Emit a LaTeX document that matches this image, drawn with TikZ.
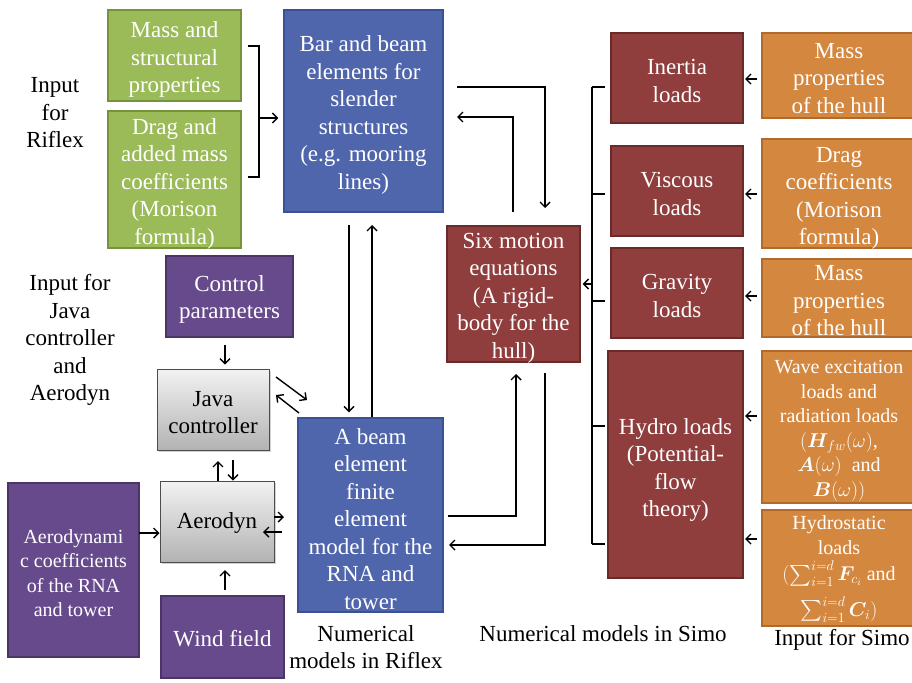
\RequirePackage{fix-cm}
\documentclass[tikz,border=0pt]{standalone}
\usepackage{amsmath,bm}
\usepackage{fontspec}
\setmainfont{Liberation Serif}
\usetikzlibrary{arrows.meta,shadows,calc}
\definecolor{grn}{HTML}{9BBB59}\definecolor{grnD}{HTML}{76923C}
\definecolor{blu}{HTML}{5066AC}\definecolor{bluD}{HTML}{3A5195}
\definecolor{red1}{HTML}{8F3D3D}\definecolor{redD}{HTML}{6B2A2A}
\definecolor{org}{HTML}{D4873F}\definecolor{orgD}{HTML}{B06A2C}
\definecolor{pur}{HTML}{674A8C}\definecolor{purD}{HTML}{4B3468}
\newcommand{\fA}{\fontsize{23}{27.5}\selectfont}
\newcommand{\fB}{\fontsize{20}{24.5}\selectfont}
\begin{document}
\begin{tikzpicture}[x=1pt,y=-1pt,
  box/.style={draw, line width=1.3pt, inner sep=0pt},
  bt/.style={align=center, text=white, font=\fA, inner sep=0pt},
  st/.style={bt, font=\fB},
  gt/.style={bt, text=black},
  gbox/.style={box, fill=grn, draw=grnD},
  bbox/.style={box, fill=blu, draw=bluD},
  rbox/.style={box, fill=red1, draw=redD},
  obox/.style={box, fill=org, draw=orgD},
  pbox/.style={box, fill=pur, draw=purD},
  graybox/.style={draw=black!70, line width=1pt, inner sep=0pt,
     top color=black!5, bottom color=black!30,
     drop shadow={shadow xshift=1.5pt, shadow yshift=-1.5pt, opacity=.35}},
  lbl/.style={align=center, font=\fA, text=black, inner sep=0pt},
  ln/.style={line width=1.4pt, draw=black},
  arr/.style={ln, -{Straight Barb[length=5pt,width=10pt]}}]
\fill[white] (0,0) rectangle (912,682);
\useasboundingbox (0,0) rectangle (912,682);

% green
\node[gbox, minimum width=133pt, minimum height=91pt] (g1) at (174.5,55.5) {};
\node[bt] (g1t) at (174.5,59.5) {Mass and\\structural\\properties};
\node[gbox, minimum width=133pt, minimum height=137pt] (g2) at (174.5,179.5) {};
\node[bt] (g2t) at (174.5,183.5) {Drag and\\added mass\\coefficients\\(Morison\\formula)};
% blue
\node[bbox, minimum width=159pt, minimum height=202pt] (b1) at (363.5,111) {};
\node[bt] (b1t) at (363.5,115) {Bar and beam\\elements for\\slender\\structures\\(e.g. mooring\\lines)};
\node[bbox, minimum width=145pt, minimum height=194pt] (b2) at (370.5,515) {};
\node[bt] (b2t) at (370.5,519) {A beam\\element\\finite\\element\\model for the\\RNA and\\tower};
% red
\node[rbox, minimum width=133pt, minimum height=136pt] (six) at (513.5,294) {};
\node[bt] (sixt) at (513.5,298) {Six motion\\equations\\(A rigid-\\body for the\\hull)};
\node[rbox, minimum width=132pt, minimum height=90pt] (in) at (677,78) {};
\node[bt] (int) at (677,81) {Inertia\\loads};
\node[rbox, minimum width=132pt, minimum height=90pt] (vi) at (677,191) {};
\node[bt] (vit) at (677,194) {Viscous\\loads};
\node[rbox, minimum width=132pt, minimum height=90pt] (gr) at (677,293) {};
\node[bt] (grt) at (677,296) {Gravity\\loads};
\node[rbox, minimum width=135pt, minimum height=227pt] (hy) at (675.5,464.5) {};
\node[bt] (hyt) at (675.5,470) {Hydro loads\\(Potential-\\flow\\theory)};
% orange
\node[obox, minimum width=154pt, minimum height=85pt] (o1) at (839,75.5) {};
\node[bt] (o1t) at (839,78.5) {Mass\\properties\\of the hull};
\node[obox, minimum width=154pt, minimum height=109pt] (o2) at (839,193.5) {};
\node[bt] (o2t) at (839,198.5) {Drag\\coefficients\\(Morison\\formula)};
\node[obox, minimum width=154pt, minimum height=78pt] (o3) at (839,298) {};
\node[bt] (o3t) at (839,301) {Mass\\properties\\of the hull};
\node[obox, minimum width=154pt, minimum height=152pt] (o4) at (839,427) {};
\node[st] (o4t) at (839,431) {Wave excitation\\loads and\\radiation loads\\$(\bm{H}_{fw}(\omega)$,\\$\bm{A}(\omega)$\ \ and\\$\bm{B}(\omega))$};
\node[obox, minimum width=154pt, minimum height=116pt] (o5) at (839,568) {};
\node[st] (o5t) at (839,569) {Hydrostatic\\loads\\[2pt]$(\sum_{i=1}^{i=d}\bm{F}_{c_i}$ and\\[9pt]$\sum_{i=1}^{i=d}\bm{C}_i)$};
% purple and gray
\node[pbox, minimum width=127pt, minimum height=81pt] (ctrl) at (229.5,296.5) {};
\node[bt] (ctrlt) at (229.5,299.5) {Control\\parameters};
\node[graybox, minimum width=112pt, minimum height=81pt] (java) at (213,409.5) {};
\node[gt] (javat) at (213,412.5) {Java\\controller};
\node[graybox, minimum width=114pt, minimum height=81pt] (aero) at (217,521.5) {};
\node[gt] (aerot) at (217,523) {Aerodyn};
\node[pbox, minimum width=131pt, minimum height=174pt] (coef) at (73.5,570) {};
\node[st] (coeft) at (73.5,573) {Aerodynami\\c coefficients\\of the RNA\\and tower};
\node[pbox, minimum width=123pt, minimum height=82pt] (wind) at (222.5,637) {};
\node[bt] (windt) at (222.5,639) {Wind field};

% labels
\node[lbl] (l1) at (55,113) {Input\\for\\Riflex};
\node[lbl] (l2) at (70,340) {Input for\\Java\\controller\\and\\Aerodyn};
\node[lbl] (l3) at (366,647) {Numerical\\models in Riflex};
\node[lbl] (l4) at (603,634) {Numerical models in Simo};
\node[lbl] (l5) at (842,640) {Input for Simo};

% bracket green -> blue1
\coordinate (bt) at (248,46); \coordinate (bb) at (248,177); \coordinate (bm) at (259,118);
\draw[ln] (bt) -| (bm) |- (bb);
\draw[arr, shorten >=5pt] (bm) -- (bm -| b1.west);

% blue1 <-> blue2
\coordinate (va) at (349,225); \coordinate (vb) at (372,225);
\draw[arr, shorten >=5pt] (va) -- (va |- b2.north);
\draw[arr] (vb |- b2.north) -- (vb);

% blue1 <-> six
\coordinate (ta) at (457,87); \coordinate (tb) at (545,208);
\draw[arr] (ta) -| (tb);
\coordinate (tc) at (513,212); \coordinate (td) at (457,117);
\draw[arr] (tc) |- (td);

% blue2 <-> six
\coordinate (ca) at (448,516); \coordinate (cb) at (516,374);
\draw[arr] (ca) -| (cb);
\coordinate (da) at (545,373); \coordinate (db) at (449,545);
\draw[arr] (da) |- (db);

% right bracket
\coordinate (rt) at (592,87); \coordinate (rb) at (592,544); \coordinate (rm) at (592,284);
\draw[ln] (rt) -- (rb);
\foreach \yy in {87,194,301,426,544} \draw[ln] (592,\yy) -- (605,\yy);
\draw[arr, shorten >=2pt] (rm) -- (rm -| six.east);

% orange -> red
\foreach \yy in {79,194,296,416,539} \draw[arr] (757,\yy) -- (745,\yy);

% left part
\coordinate (cx) at (225,0);
\draw[arr, shorten <=7pt, shorten >=4pt] (ctrl.south -| cx) -- (java.north -| cx);
\coordinate (ja) at (233,460); \coordinate (jb) at (218,461);
\draw[arr] (ja) -- (ja |- aero.north);
\draw[arr] (jb |- aero.north) -- (jb);
\coordinate (d1) at (276,377); \coordinate (d2) at (307,400);
\coordinate (d3) at (299,413); \coordinate (d4) at (276,395);
\draw[arr] (d1) -- (d2);
\draw[arr] (d3) -- (d4);
\coordinate (e1) at (274,517); \coordinate (e2) at (284,517);
\coordinate (e3) at (282,532); \coordinate (e4) at (263,532);
\draw[arr] (e1) -- (e2);
\draw[arr] (e3) -- (e4);
\coordinate (f1) at (139,533);
\draw[arr] (f1) -- (f1 -| aero.west);
\coordinate (w1) at (225,590); \coordinate (w2) at (225,570);
\draw[arr] (w1) -- (w2);
\end{tikzpicture}
\end{document}
